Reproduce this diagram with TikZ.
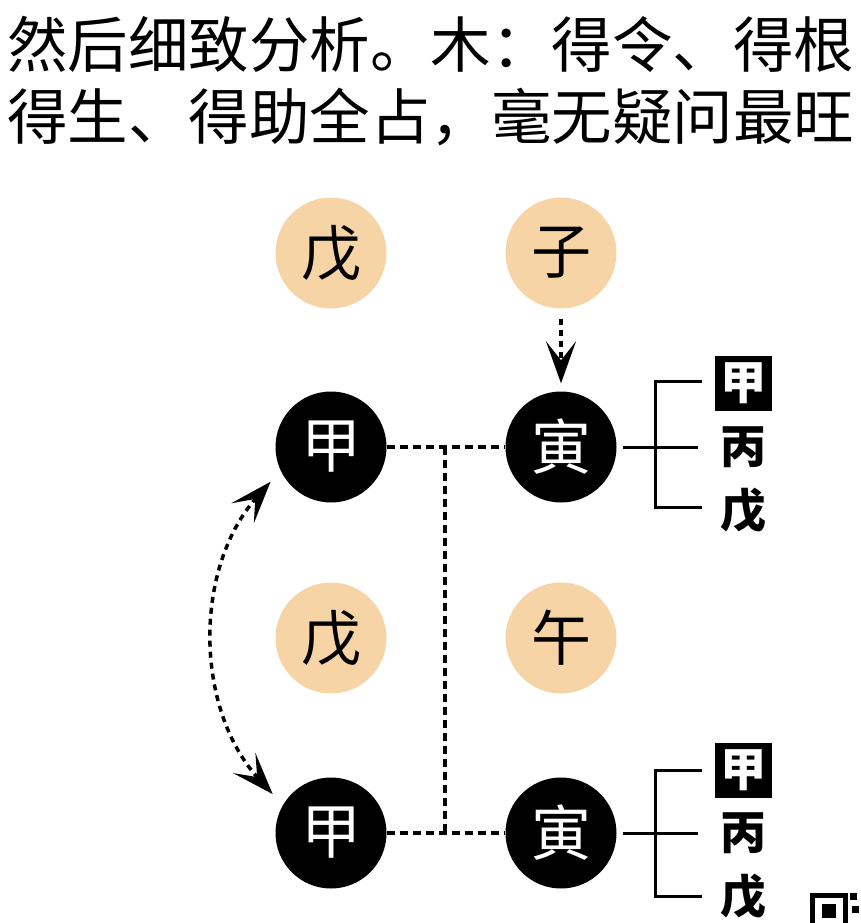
\documentclass[tikz,border=0pt]{standalone}
\usepackage{fontspec}
\newfontfamily\cjk{Noto Sans CJK SC}
\usepackage{tikz}
\usetikzlibrary{arrows.meta, positioning}
\definecolor{peach}{RGB}{247,212,166}
\tikzstyle{onode} = [circle, fill=peach, minimum size=111pt, inner sep=0pt, font=\cjk\fontsize{60}{60}\selectfont]
\tikzstyle{bnode} = [circle, fill=black, text=white, minimum size=111pt, inner sep=0pt, font=\cjk\fontsize{60}{60}\selectfont]
\tikzstyle{hnode} = [inner sep=0pt, font=\cjk\bfseries\fontsize{46}{46}\selectfont]
\tikzstyle{hbox} = [hnode, fill=black, text=white, minimum width=57pt, minimum height=55pt]
\tikzstyle{line} = [draw, line width=3pt]
\tikzstyle{dline} = [draw, line width=3.5pt, dash pattern=on 8pt off 5pt]
\tikzstyle{aline} = [draw, line width=3.5pt, dash pattern=on 6pt off 5pt]
\tikzset{barb/.tip={Stealth[length=42pt, width=30pt, inset=19pt]}}

\begin{document}
\begin{tikzpicture}[x=1pt, y=-1pt]
			\useasboundingbox (0,0) rectangle (860,923);
			\node [anchor=west, inner sep=0pt, font=\cjk\fontsize{60.5}{60.5}\selectfont] (line1) at (7,44) {然后细致分析。木：得令、得根};
			\node [anchor=west, inner sep=0pt, font=\cjk\fontsize{60.5}{60.5}\selectfont] (line2) at (7,117) {得生、得助全占，毫无疑问最旺};

			\node [onode] (wu1) at (331,253) {戊};
			\node [onode] (zi) at (561,253) {子};
			\node [bnode] (jia1) at (331,447) {甲};
			\node [bnode] (yin1) at (561,447) {寅};
			\node [onode] (wu2) at (331,638) {戊};
			\node [onode] (wu) at (561,638) {午};
			\node [bnode] (jia2) at (331,833) {甲};
			\node [bnode] (yin2) at (561,833) {寅};

			\coordinate (t1) at (445,447);
			\coordinate (t2) at (445,833);
			\path [dline] (jia1) -- (yin1);
			\path [dline] (jia2) -- (yin2);
			\path [dline] (t1) -- (t2);
			\path [aline, -barb, shorten <=10pt, shorten >=8pt] (zi) -- (yin1);
			\path [aline, barb-barb, shorten <=15pt, shorten >=15pt] (jia1.205) to[bend right=42] (jia2.150);

			% hidden stems
			\node [hbox] (h1) at (743,383) {甲};
			\node [hnode] (b1) at (743,447) {丙};
			\node [hnode] (w1) at (743,511) {戊};
			\coordinate (m1) at (655,447);
			\path [line] (yin1.east) ++(6,0) -- (698,447);
			\path [line] (702,381) -| (m1) |- (702,507);

			\node [hbox] (h2) at (743,770) {甲};
			\node [hnode] (b2) at (743,833) {丙};
			\node [hnode] (w2) at (743,897) {戊};
			\coordinate (m2) at (655,833);
			\path [line] (yin2.east) ++(6,0) -- (698,833);
			\path [line] (702,770) -| (m2) |- (702,896);

			% corner mark
			\draw [line width=5pt] (812,895) rectangle (845,930);
			\fill (822,904) rectangle (836,918);
			\fill (850,893) rectangle (857,900);
			\fill (852,906) rectangle (859,913);
		\end{tikzpicture}
\end{document}
